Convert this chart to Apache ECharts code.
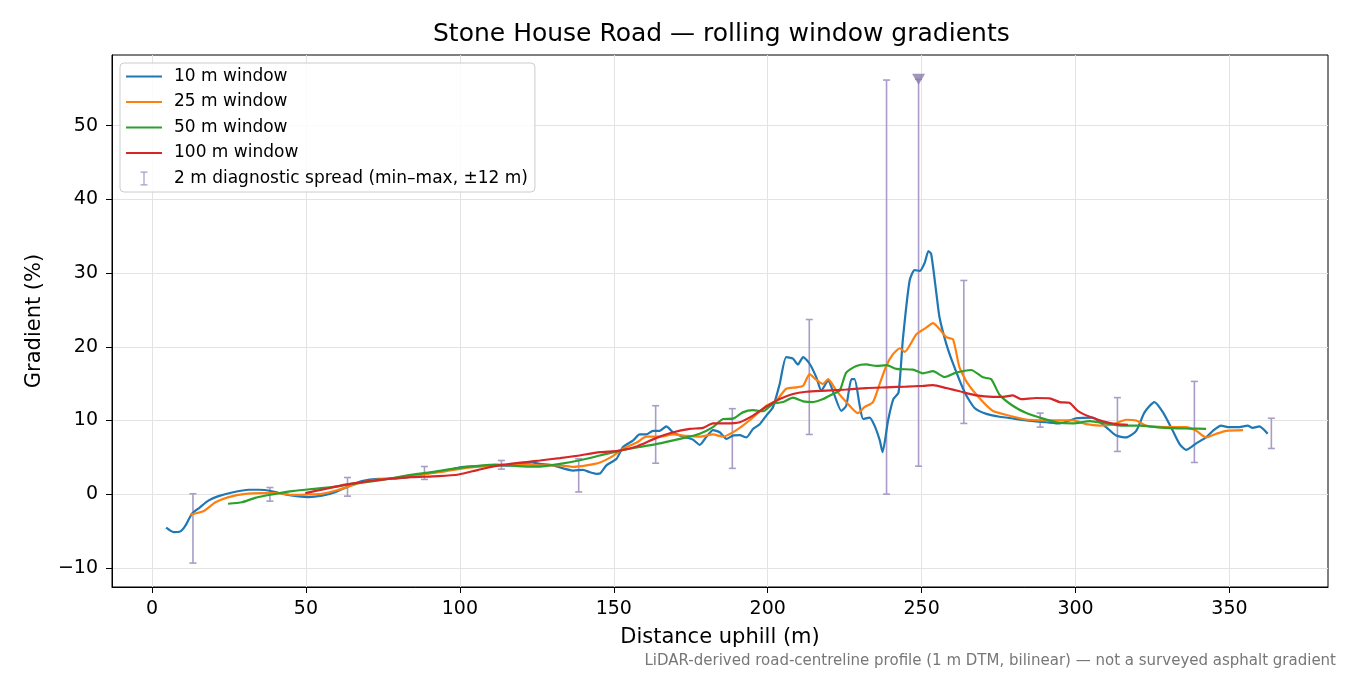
<!DOCTYPE html>
<html>
<head>
<meta charset="utf-8">
<script src="https://cdn.jsdelivr.net/npm/echarts@6/dist/echarts.min.js"></script>
<style>
  html, body { margin: 0; padding: 0; background: #fff; }
  #chart { width: 1350px; height: 675px; }
</style>
</head>
<body>
<div id="chart"></div>
<script>
const FONT = "DejaVu Sans";

// [distance m, gradient %]
const win10 = [[4.6,-4.55],[7.0,-5.15],[9.2,-5.05],[10.8,-4.3],[13.0,-2.65],[15.4,-1.85],[18.4,-0.85],[21.6,-0.27],[26,0.23],[31.4,0.6],[34.6,0.6],[39,0.4],[43.3,-0.04],[47.6,-0.3],[50.9,-0.4],[55.2,-0.2],[59.5,0.27],[63.3,0.95],[68.2,1.77],[73.6,2.08],[79,2.1],[84.4,2.4],[89.8,2.85],[95.2,3.2],[100.6,3.66],[106,3.8],[111.5,3.85],[116.9,3.9],[123.4,4.3],[126,4.1],[130.3,3.9],[136.8,3.2],[140,3.3],[142.2,2.98],[144.4,2.76],[145.5,2.8],[147.6,3.9],[150.9,4.8],[153,6.4],[156.3,7.3],[158.4,8.1],[160.6,8.1],[162.7,8.6],[164.9,8.6],[167.1,9.2],[169.2,8.4],[172.5,7.8],[175.7,7.4],[177.9,6.7],[180.1,7.8],[182.2,8.7],[184.4,8.4],[186.6,7.5],[188.7,7.95],[190.9,8.0],[193.1,7.7],[195.2,8.85],[197.4,9.5],[199.6,10.7],[201.7,11.8],[203.9,14.96],[206,18.6],[208.2,18.4],[209.8,17.6],[211.5,18.6],[213.6,17.7],[215.8,15.85],[217.4,14.05],[219.6,15.4],[221.7,13.4],[223.9,11.3],[225.5,12.0],[227.2,15.6],[228.2,15.6],[229.9,12.0],[231,10.2],[233.1,10.4],[234.7,9.3],[236.4,7.3],[237.3,5.7],[239.1,10.0],[240.8,12.9],[242.5,13.8],[243.9,21.0],[246.1,29.0],[247.7,30.4],[249.4,30.3],[251,31.4],[252.2,33.0],[253.1,32.6],[254.8,27.2],[255.8,24.0],[258,20.4],[260.4,17.5],[264,13.8],[267.2,11.7],[271,10.9],[275.3,10.5],[277.5,10.4],[284,10.0],[290.5,9.76],[294.8,9.6],[300.2,10.3],[305.6,10.4],[309.9,9.1],[313.2,7.95],[316.4,7.7],[319.7,8.6],[322.4,11.1],[325.6,12.5],[328.4,11.1],[331.6,8.6],[333.8,6.8],[335.9,6.0],[339.2,6.9],[342.4,7.7],[344.6,8.6],[347.3,9.3],[349.5,9.1],[353.2,9.1],[355.9,9.3],[357.5,9.0],[359.7,9.2],[362.4,8.2]];

const win25 = [[12.4,-2.8],[16.8,-2.3],[20.6,-1.1],[24.9,-0.4],[30.3,0.05],[35.7,0.15],[41.1,0.15],[45.5,-0.1],[49.8,-0.05],[55.2,0.05],[60.6,0.6],[64.9,1.2],[71.4,1.85],[79,2.2],[86.6,2.6],[95.2,3.1],[102.8,3.6],[111.5,3.9],[122.3,4.0],[126,3.9],[132.5,3.9],[136.8,3.7],[141.1,3.9],[145.5,4.3],[149.8,5.2],[153,6.15],[157.4,7.0],[160.6,7.8],[165,7.8],[169.3,8.1],[173.6,7.9],[177.9,7.8],[182.2,8.1],[185.5,7.8],[188.7,8.4],[191.9,9.3],[195.2,10.4],[199.6,12.0],[202.8,12.7],[206,14.3],[209.3,14.5],[211.5,14.7],[213.6,16.3],[215.8,15.5],[217.9,14.95],[219.6,15.6],[222.3,14.05],[225.5,12.5],[229.3,11.0],[231.4,11.8],[234.2,12.5],[236.4,15.0],[238.5,17.4],[240.7,19.0],[242.9,19.8],[244.5,19.3],[248.3,21.7],[251.5,22.6],[253.7,23.2],[255.8,22.4],[258,21.3],[260.2,21.0],[262.3,17.2],[265,15.0],[269.5,12.7],[273.1,11.3],[275.3,11.0],[282.9,10.2],[290.5,10.0],[299.2,10.0],[303.5,9.5],[307.8,9.3],[312.1,9.45],[316.4,10.1],[319.7,10.0],[322.9,9.3],[329.4,9.1],[335.9,9.1],[339.2,8.6],[342.4,7.7],[345.7,8.2],[349,8.6],[354.4,8.7]];

const win50 = [[24.7,-1.3],[29.2,-1.1],[33.5,-0.5],[39,-0.05],[45.5,0.4],[51.9,0.7],[58.4,0.95],[64.9,1.4],[73.6,1.86],[82.2,2.5],[90.9,3.0],[100.6,3.6],[111.5,4.0],[122.3,3.75],[126,3.75],[132.5,4.1],[139,4.6],[145.5,5.25],[151.9,5.9],[158.4,6.4],[165,6.9],[169.3,7.3],[173.6,7.7],[177.9,8.2],[182.2,9.1],[185.5,10.2],[188.7,10.25],[191.9,11.1],[195.2,11.4],[198.5,11.25],[201.7,12.25],[205,12.5],[208.2,13.1],[211.5,12.6],[214.7,12.5],[218,12.9],[221.2,13.6],[223.4,14.05],[225.5,16.5],[228.8,17.4],[232,17.6],[235.3,17.4],[238.6,17.5],[241.8,17.0],[247.2,16.9],[250.4,16.4],[253.7,16.7],[257.4,15.9],[261.2,16.5],[266.1,16.85],[269.9,15.85],[272.6,15.6],[275.3,13.5],[279.6,12.0],[284,11.0],[288.3,10.4],[293.7,9.76],[299.2,9.6],[304.6,9.9],[310,9.6],[315.4,9.3],[320.8,9.3],[326.2,9.1],[331.6,8.95],[337,8.9],[342.4,8.86]];

const win100 = [[49.8,0.15],[56.3,0.7],[62.8,1.3],[69.3,1.7],[76.8,2.08],[84.4,2.3],[93,2.44],[99.6,2.67],[106,3.3],[112.6,3.9],[122.3,4.4],[126,4.57],[132.5,4.9],[137.9,5.2],[145.5,5.7],[151.9,5.9],[157.4,6.46],[163.9,7.64],[169.3,8.4],[174.7,8.86],[179,9.0],[182.2,9.6],[186.6,9.6],[190.9,9.76],[195.2,10.66],[199.6,11.9],[203.9,12.9],[208.2,13.6],[212.5,13.9],[219,14.05],[225.5,14.2],[232,14.4],[238.5,14.5],[245,14.6],[250.4,14.7],[253.7,14.8],[258,14.4],[262.3,13.96],[267.8,13.4],[273.1,13.2],[276.4,13.2],[279.6,13.4],[282.3,12.9],[287.2,13.05],[291.6,13.0],[294.8,12.5],[298,12.4],[300.7,11.3],[304.6,10.5],[308.9,9.9],[313.2,9.5],[317,9.4]];

// 2 m diagnostic spread (min-max)
const spreadX    = [13.3, 38.3, 63.5, 88.5, 113.5, 138.6, 163.6, 188.5, 213.5, 238.6, 249, 263.7, 288.5, 313.6, 338.6, 363.6];
const spreadLow  = [-9.35, -0.95, -0.27, 2.0, 3.4, 0.3, 4.2, 3.5, 8.1, 0.0, 3.8, 9.6, 9.1, 5.8, 4.3, 6.2];
const spreadHigh = [0.05, 0.9, 2.26, 3.75, 4.57, 4.8, 12.0, 11.6, 23.7, 56.2, 56.3, 29.0, 11.0, 13.1, 15.3, 10.3];

const peakMark = [[249, 56.3]];

const xTicks = [0, 50, 100, 150, 200, 250, 300, 350];
const yTicks = [-10, 0, 10, 20, 30, 40, 50];

const names = ["10 m window", "25 m window", "50 m window", "100 m window"];
const colors = ["#1f77b4", "#ff7f0e", "#2ca02c", "#d62728"];
const spreadName = "2 m diagnostic spread (min–max, ±12 m)";
const spreadColor = "#a99cc6";

const lineSeries = [win10, win25, win50, win100].map((d, i) => ({
  name: names[i], type: "line", data: d, symbol: "none", smooth: 0.2,
  lineStyle: { width: 2.2, color: colors[i] }, itemStyle: { color: colors[i] }, z: 3 + i
}));

const spreadData = spreadX.map((x, i) => [x, spreadLow[i], spreadHigh[i]]);
const minus = v => String(v).replace("-", "−");

const legendData = names.map(n => ({ name: n, icon: "path://M0,0h36v2.2h-36z" }));
legendData.push({ name: spreadName, icon: "path://M0,0h7v1.2h-7z M2.9,1.2h1.2v11.6h-1.2z M0,12.8h7v1.2h-7z", itemStyle: { color: spreadColor } });

const chart = echarts.init(document.getElementById("chart"));
chart.setOption({
  animation: false,
  textStyle: { fontFamily: FONT },
  title: {
    text: "Stone House Road — rolling window gradients", left: 428, top: 17,
    textStyle: { fontFamily: FONT, fontSize: 25, fontWeight: "normal", color: "#000" }
  },
  legend: {
    orient: "vertical", left: 120, top: 63, padding: [5, 7, 5, 6],
    backgroundColor: "rgba(255,255,255,0.85)", borderColor: "#cccccc", borderWidth: 1, borderRadius: 4,
    itemWidth: 36, itemHeight: 14, itemGap: 8.5,
    textStyle: { fontFamily: FONT, fontSize: 17, color: "#000", padding: [0, 0, 0, 7] },
    data: legendData
  },
  grid: { left: 112, right: 22, top: 55, bottom: 88, show: true, borderColor: "#000", borderWidth: 1, backgroundColor: "transparent" },
  xAxis: {
    type: "value", min: -13, max: 382,
    name: "Distance uphill (m)", nameLocation: "middle", nameGap: 40,
    nameTextStyle: { fontFamily: FONT, fontSize: 21, color: "#000" },
    axisLine: { show: true, onZero: false, lineStyle: { color: "#000" } },
    axisTick: { show: true, length: 6, customValues: xTicks, lineStyle: { color: "#000" } },
    axisLabel: { customValues: xTicks, fontSize: 19, color: "#000", margin: 13, fontFamily: FONT, formatter: minus },
    splitLine: { show: true, lineStyle: { color: "#e3e3e3", width: 1 } }
  },
  yAxis: {
    type: "value", min: -12.6, max: 59.6,
    name: "Gradient (%)", nameLocation: "middle", nameGap: 67, nameRotate: 90,
    nameTextStyle: { fontFamily: FONT, fontSize: 21, color: "#000" },
    axisLine: { show: true, onZero: false, lineStyle: { color: "#000" } },
    axisTick: { show: true, length: 6, customValues: yTicks, lineStyle: { color: "#000" } },
    axisLabel: { customValues: yTicks, fontSize: 19, color: "#000", margin: 14, fontFamily: FONT, formatter: minus },
    splitLine: { show: true, lineStyle: { color: "#e3e3e3", width: 1 } }
  },
  series: lineSeries.concat([
    {
      name: spreadName, type: "custom", data: spreadData, encode: { x: 0, y: [1, 2] }, z: 2,
      itemStyle: { color: spreadColor },
      renderItem: (params, api) => {
        const x = api.value(0);
        const lo = api.coord([x, api.value(1)]);
        const hi = api.coord([x, api.value(2)]);
        const w = 3.5;
        const st = { stroke: spreadColor, lineWidth: 1.6 };
        return {
          type: "group", children: [
            { type: "line", shape: { x1: lo[0], y1: lo[1], x2: hi[0], y2: hi[1] }, style: st },
            { type: "line", shape: { x1: lo[0] - w, y1: lo[1], x2: lo[0] + w, y2: lo[1] }, style: st },
            { type: "line", shape: { x1: hi[0] - w, y1: hi[1], x2: hi[0] + w, y2: hi[1] }, style: st }
          ]
        };
      }
    },
    {
      name: "peak", type: "scatter", data: peakMark, symbol: "triangle", symbolRotate: 180,
      symbolSize: [13, 11], itemStyle: { color: "#8a7aa8" }, z: 8
    }
  ]),
  graphic: [{
    type: "text", right: 14, top: 654,
    style: { text: "LiDAR-derived road-centreline profile (1 m DTM, bilinear) — not a surveyed asphalt gradient",
      fontFamily: FONT, fontSize: 15, fill: "#777" }
  }]
});
</script>
</body>
</html>
